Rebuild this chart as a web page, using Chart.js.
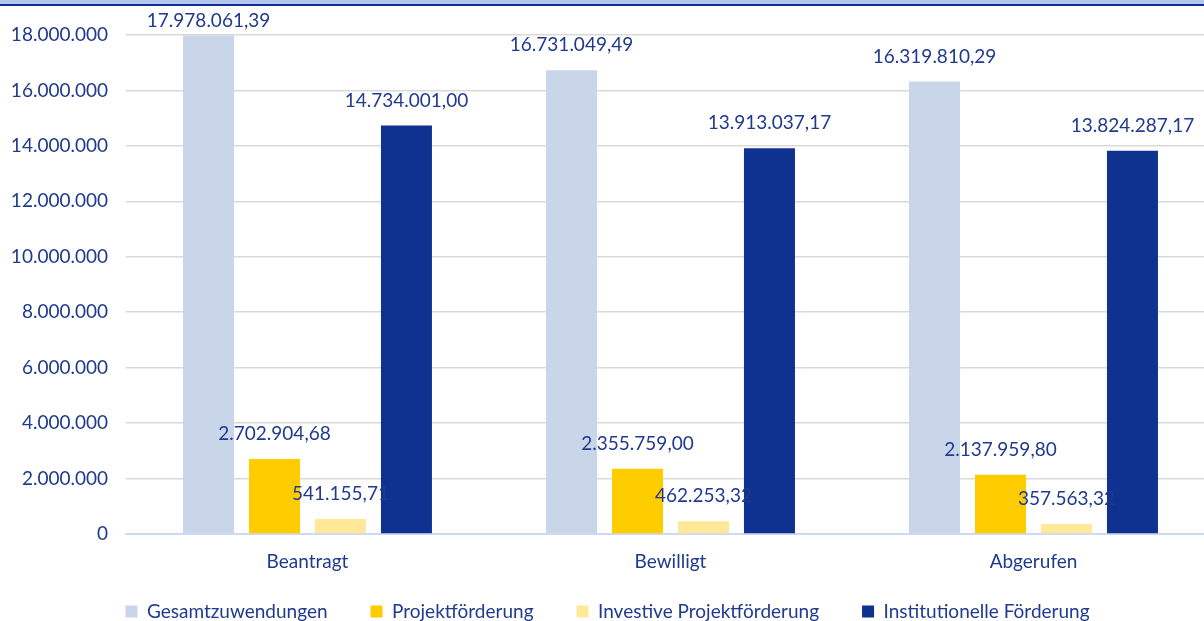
<!DOCTYPE html>
<html>
<head>
<meta charset="utf-8">
<script src="https://cdn.jsdelivr.net/npm/chart.js@4"></script>
<style>
    html, body { margin: 0; padding: 0; background: #fff; overflow: hidden; }
    #wrap { position: relative; width: 1204px; height: 621px; overflow: hidden; }
    #topbar { position: absolute; left: 0; top: 0; width: 1204px; height: 4px; background: #b4c7f0; border-bottom: 2px solid #12308f; z-index: 2; }
    #box { position: absolute; left: 0; top: 0; width: 1216px; height: 621px; }
</style>
</head>
<body>
<div id="wrap">
    <div id="topbar"></div>
    <div id="box"><canvas id="fundingChart"></canvas></div>
</div>
<script>
const categories = ['Beantragt', 'Bewilligt', 'Abgerufen'];
const gesamtzuwendungen = [17978061.39, 16731049.49, 16319810.29];
const projektfoerderung = [2702904.68, 2355759.00, 2137959.80];
const investiveProjektfoerderung = [541155.71, 462253.32, 357563.32];
const institutionelleFoerderung = [14734001.00, 13913037.17, 13824287.17];
const yTicks = [0, 2000000, 4000000, 6000000, 8000000, 10000000, 12000000, 14000000, 16000000, 18000000];

const textColor = '#1f3a8e';
const fontFamily = 'Lato, "Noto Sans", sans-serif';
const fontSize = 19;

// German number format: 1.234.567,89
const fmtDe = (v, decimals) => {
    const parts = v.toFixed(decimals).split('.');
    const intPart = parts[0].replace(/\B(?=(\d{3})+(?!\d))/g, '.');
    return parts.length > 1 ? intPart + ',' + parts[1] : intPart;
};

const valueLabels = {
    id: 'valueLabels',
    afterDatasetsDraw(chart) {
        const { ctx } = chart;
        ctx.save();
        ctx.font = fontSize + 'px ' + fontFamily;
        ctx.fillStyle = textColor;
        ctx.textAlign = 'center';
        ctx.textBaseline = 'middle';
        chart.data.datasets.forEach((ds, i) => {
            chart.getDatasetMeta(i).data.forEach((bar, j) => {
                const y = Math.max(bar.y - 25, 21);
                ctx.fillText(fmtDe(ds.data[j], 2), bar.x, y);
            });
        });
        ctx.restore();
    }
};

const ctx = document.getElementById('fundingChart').getContext('2d');
new Chart(ctx, {
    type: 'bar',
    data: {
        labels: categories,
        datasets: [
            { label: 'Gesamtzuwendungen', data: gesamtzuwendungen, backgroundColor: '#c9d5e8' },
            { label: 'Projektförderung', data: projektfoerderung, backgroundColor: '#ffcc00' },
            { label: 'Investive Projektförderung', data: investiveProjektfoerderung, backgroundColor: '#ffe999' },
            { label: 'Institutionelle Förderung', data: institutionelleFoerderung, backgroundColor: '#0f3190' }
        ]
    },
    options: {
        responsive: true,
        maintainAspectRatio: false,
        animation: false,
        categoryPercentage: 0.727,
        barPercentage: 0.773,
        layout: { padding: { top: 35, right: 1, left: 0, bottom: 0 } },
        plugins: {
            tooltip: { enabled: false },
            legend: {
                position: 'bottom',
                maxHeight: 62,
                labels: {
                    color: textColor,
                    font: { family: fontFamily, size: fontSize },
                    boxWidth: 12,
                    boxHeight: 12,
                    padding: 43
                }
            }
        },
        scales: {
            x: {
                grid: { display: false, drawTicks: false },
                border: { color: '#ccdaf5', width: 2 },
                ticks: { color: textColor, font: { family: fontFamily, size: fontSize }, padding: 16 },
                afterFit: scale => {
                    scale.height = 25;
                    // let the category labels run below the squeezed axis box
                    scale._computeLabelArea = () => undefined;
                }
            },
            y: {
                min: 0,
                max: 18000000,
                border: { display: false },
                grid: {
                    color: ctx => ctx.tick && ctx.tick.value === 0 ? '#ccdaf5' : '#d9d9d9',
                    lineWidth: 1.5,
                    drawTicks: false
                },
                afterBuildTicks: scale => { scale.ticks = yTicks.map(v => ({ value: v })); },
                ticks: {
                    color: textColor,
                    font: { family: fontFamily, size: fontSize },
                    padding: 18,
                    callback: v => fmtDe(v, 0)
                },
                afterFit: scale => { scale.width = 126; }
            }
        }
    },
    plugins: [valueLabels]
});
</script>
</body>
</html>
